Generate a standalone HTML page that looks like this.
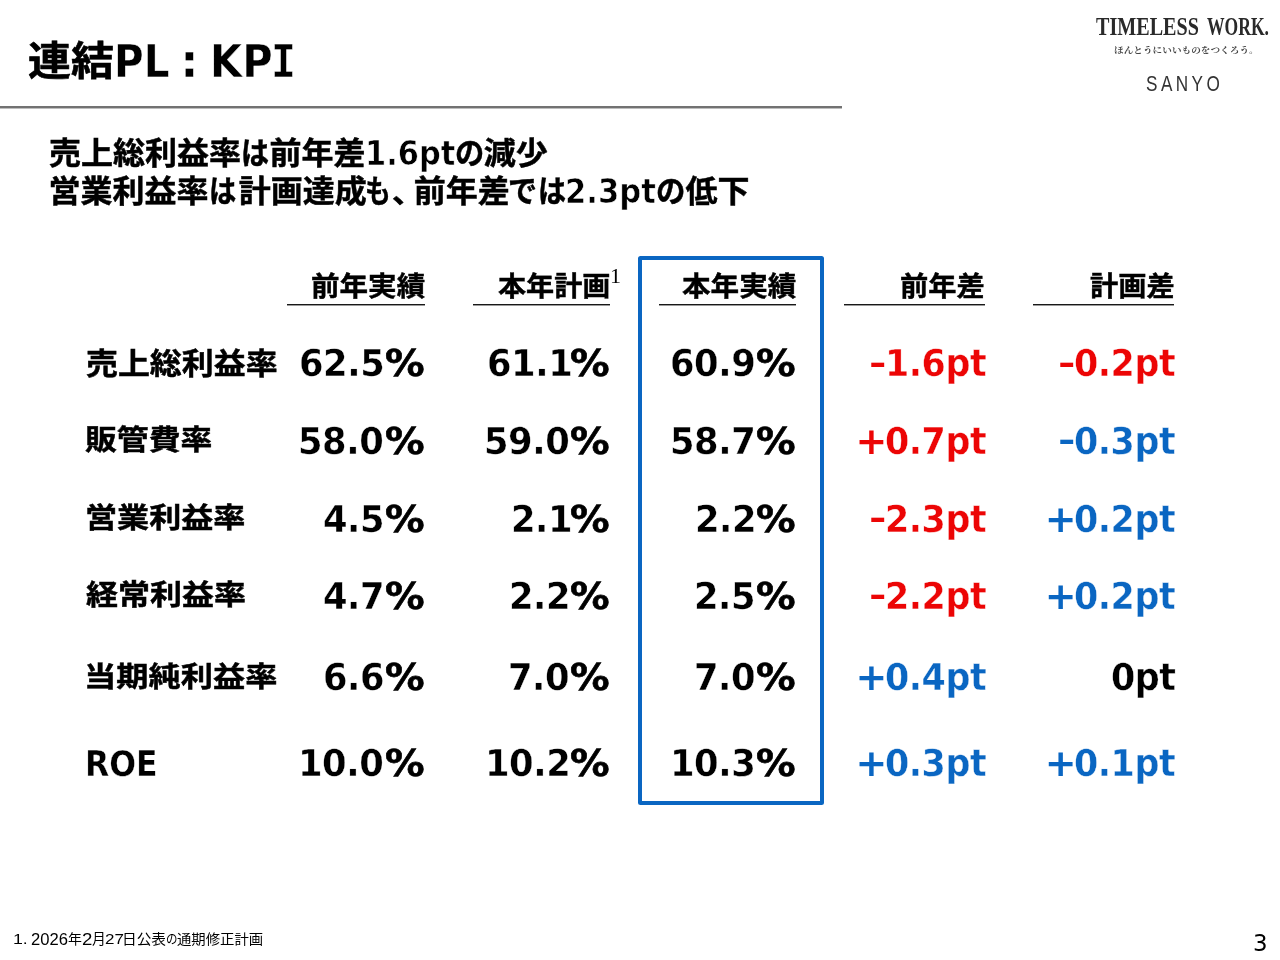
<!DOCTYPE html>
<html lang="ja"><head><meta charset="utf-8"><title>連結PL：KPI</title>
<style>
html,body{margin:0;padding:0;background:#fff}
body{width:1280px;height:960px;position:relative;overflow:hidden;color:#000}
h1,p,div{margin:0;padding:0}
.r{position:absolute;white-space:nowrap;line-height:1;transform-origin:0 0;display:block;margin:0;vertical-align:baseline}
.k{font-family:'Noto Sans CJK JP','Liberation Sans',sans-serif;font-weight:700;-webkit-text-stroke:0.016em}
.kr{font-family:'Noto Sans CJK JP','Liberation Sans',sans-serif;font-weight:400}
.d{font-family:'DejaVu Sans','Liberation Sans',sans-serif;font-weight:700;-webkit-text-stroke:0.01em #fff}
.dr{font-family:'DejaVu Sans','Liberation Sans',sans-serif;font-weight:400}
.dm{font-family:'DejaVu Sans Mono','Liberation Mono',monospace;font-weight:700;-webkit-text-stroke:0.01em #fff}
.a{font-family:'Liberation Sans',sans-serif;font-weight:400}
.sb{font-family:'Liberation Serif','Noto Serif CJK JP',serif;font-weight:700}
.s{font-family:'Liberation Serif','Noto Serif CJK JP',serif;font-weight:400}
.sj{font-family:'Noto Serif CJK JP','Liberation Serif',serif;font-weight:700}
.rule{position:absolute;left:0;top:106px;width:842px;height:3px;background:linear-gradient(#727272 0,#727272 2px,#bdbdbd 2px,#bdbdbd 3px)}
.ul{position:absolute;top:304px;height:2px;background:linear-gradient(#181818 0,#181818 1px,#9a9a9a 1px,#9a9a9a 2px)}
.box{position:absolute;left:638px;top:256px;width:178px;height:540.5px;border:4px solid #0a66c2;border-radius:2.5px}
</style></head><body>
<div class="rule"></div>
<div class="box"></div>
<div class="ul" style="left:287px;width:138.0px"></div><div class="ul" style="left:473px;width:137.0px"></div><div class="ul" style="left:659px;width:137.0px"></div><div class="ul" style="left:844px;width:141.0px"></div><div class="ul" style="left:1033px;width:141.0px"></div>
<h1 class="title">
  <span class="r k" style="left:28.11px;top:38.84px;font-size:42.67px;transform:scale(1.0059,0.9206)">連結</span><span class="r d" style="left:114.39px;top:39.87px;font-size:44px;transform:scale(0.9191,0.9911)">PL</span><span class="r d" style="left:180.35px;top:38.31px;font-size:44px;transform:scale(1.0607,1.0481)">:</span><span class="r d" style="left:209.82px;top:39.87px;font-size:44px;transform:scale(0.9434,0.9911)">KP</span><span class="r dm" style="left:271.09px;top:39.87px;font-size:44px;transform:scale(0.9421,0.9911)">I</span>
</h1>
<div class="lead">
  <p class="l1">
    <span class="r k" style="left:49.07px;top:134.74px;font-size:32px;transform:scale(1.0000,0.9550)">売上総利益率</span><span class="r k" style="left:240.71px;top:134.74px;font-size:32px;transform:scale(0.8762,0.9550)">は</span><span class="r k" style="left:269.39px;top:134.74px;font-size:32px;transform:scale(1.0000,0.9550)">前年差</span><span class="r d" style="left:365.47px;top:137.15px;font-size:32px;transform:scale(0.9520,1.0325);-webkit-text-stroke-width:0.018em">1.6pt</span><span class="r k" style="left:455.14px;top:134.74px;font-size:32px;transform:scale(0.9131,0.9550)">の</span><span class="r k" style="left:483.86px;top:134.74px;font-size:32px;transform:scale(1.0000,0.9550)">減少</span>
  </p>
  <p class="l2">
    <span class="r k" style="left:48.52px;top:173.18px;font-size:32px;transform:scale(1.0000,0.9550)">営業利益率</span><span class="r k" style="left:208.84px;top:173.18px;font-size:32px;transform:scale(0.8526,0.9550)">は</span><span class="r k" style="left:238.80px;top:173.18px;font-size:32px;transform:scale(1.0000,0.9550)">計画達成</span><span class="r k" style="left:365.00px;top:173.18px;font-size:32px;transform:scale(0.8040,0.9550)">も</span><span class="r k" style="left:391.66px;top:176.02px;font-size:32px;transform:scale(0.9737,0.8883)">、</span><span class="r k" style="left:413.75px;top:173.18px;font-size:32px;transform:scale(1.0000,0.9550)">前年差</span><span class="r k" style="left:508.05px;top:173.18px;font-size:32px;transform:scale(0.9074,0.9550)">で</span><span class="r k" style="left:537.95px;top:173.18px;font-size:32px;transform:scale(0.8767,0.9550)">は</span><span class="r d" style="left:565.11px;top:175.35px;font-size:32px;transform:scale(0.9577,1.0361);-webkit-text-stroke-width:0.018em">2.3pt</span><span class="r k" style="left:655.79px;top:173.18px;font-size:32px;transform:scale(0.9167,0.9550)">の</span><span class="r k" style="left:685.56px;top:173.18px;font-size:32px;transform:scale(1.0000,0.9550)">低下</span>
  </p>
</div>
<div class="kpi">
  <div class="thead">
    <div class="th">
      <span class="r k" style="left:310.95px;top:269.91px;font-size:28px;transform:scale(1.0198,0.9821)">前年実績</span>
    </div>
    <div class="th">
      <span class="r k" style="left:497.78px;top:271.23px;font-size:28px;transform:scale(1.0041,0.9753)">本年計画</span><sup class="r s" style="left:609.90px;top:267.47px;font-size:19.5px;transform:scale(1.1320,1.0296)">1</sup>
    </div>
    <div class="th">
      <span class="r k" style="left:682.40px;top:269.90px;font-size:28px;transform:scale(1.0205,0.9840)">本年実績</span>
    </div>
    <div class="th">
      <span class="r k" style="left:900.06px;top:271.34px;font-size:28px;transform:scale(1.0086,0.9691)">前年差</span>
    </div>
    <div class="th">
      <span class="r k" style="left:1090.08px;top:271.15px;font-size:28px;transform:scale(1.0085,0.9802)">計画差</span>
    </div>
  </div>
  <div class="tr">
    <div class="th">
      <span class="r k" style="left:86.17px;top:347.02px;font-size:32px;transform:scale(0.9979,0.9140)">売上総利益率</span>
    </div>
    <div class="td">
      <span class="r d" style="left:299.30px;top:344.25px;font-size:38px;transform:scale(0.9300,0.9892);letter-spacing:-0.5px">62.5</span><span class="r d" style="left:384.62px;top:344.25px;font-size:38px;transform:scale(1.0400,0.9892);-webkit-text-stroke:0.018em currentColor">%</span>
    </div>
    <div class="td">
      <span class="r d" style="left:486.66px;top:344.25px;font-size:38px;transform:scale(0.9300,0.9892);letter-spacing:-0.5px">61.1</span><span class="r d" style="left:570.22px;top:344.25px;font-size:38px;transform:scale(1.0400,0.9892);-webkit-text-stroke:0.018em currentColor">%</span>
    </div>
    <div class="td">
      <span class="r d" style="left:670.05px;top:344.25px;font-size:38px;transform:scale(0.9300,0.9892);letter-spacing:-0.5px">60.9</span><span class="r d" style="left:755.82px;top:344.25px;font-size:38px;transform:scale(1.0400,0.9892);-webkit-text-stroke:0.018em currentColor">%</span>
    </div>
    <div class="td">
      <span class="r d" style="left:868.90px;top:348.55px;font-size:38px;transform:scale(1.1078,0.7904);color:#ec0505;-webkit-text-stroke:0">-</span><span class="r d" style="left:885.13px;top:344.25px;font-size:38px;transform:scale(0.9180,0.9892);color:#ec0505;letter-spacing:-0.5px">1.6pt</span>
    </div>
    <div class="td">
      <span class="r d" style="left:1057.51px;top:348.55px;font-size:38px;transform:scale(1.1078,0.7904);color:#ec0505;-webkit-text-stroke:0">-</span><span class="r d" style="left:1073.73px;top:344.25px;font-size:38px;transform:scale(0.9180,0.9892);color:#ec0505;letter-spacing:-0.5px">0.2pt</span>
    </div>
  </div>
  <div class="tr">
    <div class="th">
      <span class="r k" style="left:85.36px;top:424.06px;font-size:32px;transform:scale(0.9956,0.8779)">販管費率</span>
    </div>
    <div class="td">
      <span class="r d" style="left:297.87px;top:421.95px;font-size:38px;transform:scale(0.9300,0.9892);letter-spacing:-0.5px">58.0</span><span class="r d" style="left:384.62px;top:421.95px;font-size:38px;transform:scale(1.0400,0.9892);-webkit-text-stroke:0.018em currentColor">%</span>
    </div>
    <div class="td">
      <span class="r d" style="left:484.07px;top:421.95px;font-size:38px;transform:scale(0.9300,0.9892);letter-spacing:-0.5px">59.0</span><span class="r d" style="left:570.22px;top:421.95px;font-size:38px;transform:scale(1.0400,0.9892);-webkit-text-stroke:0.018em currentColor">%</span>
    </div>
    <div class="td">
      <span class="r d" style="left:670.01px;top:421.95px;font-size:38px;transform:scale(0.9300,0.9892);letter-spacing:-0.5px">58.7</span><span class="r d" style="left:755.82px;top:421.95px;font-size:38px;transform:scale(1.0400,0.9892);-webkit-text-stroke:0.018em currentColor">%</span>
    </div>
    <div class="td">
      <span class="r d" style="left:855.61px;top:421.95px;font-size:38px;transform:scale(1.0000,0.9892);color:#ec0505;-webkit-text-stroke:0">+</span><span class="r d" style="left:885.13px;top:421.95px;font-size:38px;transform:scale(0.9180,0.9892);color:#ec0505;letter-spacing:-0.5px">0.7pt</span>
    </div>
    <div class="td">
      <span class="r d" style="left:1057.51px;top:426.48px;font-size:38px;transform:scale(1.1078,0.7904);color:#0a66c2;-webkit-text-stroke:0">-</span><span class="r d" style="left:1073.73px;top:421.95px;font-size:38px;transform:scale(0.9180,0.9892);color:#0a66c2;letter-spacing:-0.5px">0.3pt</span>
    </div>
  </div>
  <div class="tr">
    <div class="th">
      <span class="r k" style="left:85.15px;top:500.59px;font-size:32px;transform:scale(1.0026,0.8970)">営業利益率</span>
    </div>
    <div class="td">
      <span class="r d" style="left:323.20px;top:499.61px;font-size:38px;transform:scale(0.9300,0.9892);letter-spacing:-0.5px">4.5</span><span class="r d" style="left:384.64px;top:499.61px;font-size:38px;transform:scale(1.0400,0.9892);-webkit-text-stroke:0.018em currentColor">%</span>
    </div>
    <div class="td">
      <span class="r d" style="left:511.09px;top:499.61px;font-size:38px;transform:scale(0.9300,0.9892);letter-spacing:-0.5px">2.1</span><span class="r d" style="left:570.24px;top:499.61px;font-size:38px;transform:scale(1.0400,0.9892);-webkit-text-stroke:0.018em currentColor">%</span>
    </div>
    <div class="td">
      <span class="r d" style="left:695.16px;top:499.61px;font-size:38px;transform:scale(0.9300,0.9892);letter-spacing:-0.5px">2.2</span><span class="r d" style="left:755.84px;top:499.61px;font-size:38px;transform:scale(1.0400,0.9892);-webkit-text-stroke:0.018em currentColor">%</span>
    </div>
    <div class="td">
      <span class="r d" style="left:868.90px;top:503.55px;font-size:38px;transform:scale(1.1078,0.7904);color:#ec0505;-webkit-text-stroke:0">-</span><span class="r d" style="left:885.10px;top:499.61px;font-size:38px;transform:scale(0.9180,0.9892);color:#ec0505;letter-spacing:-0.5px">2.3pt</span>
    </div>
    <div class="td">
      <span class="r d" style="left:1044.64px;top:499.61px;font-size:38px;transform:scale(1.0000,0.9892);color:#0a66c2;-webkit-text-stroke:0">+</span><span class="r d" style="left:1073.70px;top:499.61px;font-size:38px;transform:scale(0.9180,0.9892);color:#0a66c2;letter-spacing:-0.5px">0.2pt</span>
    </div>
  </div>
  <div class="tr">
    <div class="th">
      <span class="r k" style="left:85.53px;top:577.66px;font-size:32px;transform:scale(0.9996,0.9037)">経常利益率</span>
    </div>
    <div class="td">
      <span class="r d" style="left:323.22px;top:577.10px;font-size:38px;transform:scale(0.9300,0.9892);letter-spacing:-0.5px">4.7</span><span class="r d" style="left:384.62px;top:577.10px;font-size:38px;transform:scale(1.0400,0.9892);-webkit-text-stroke:0.018em currentColor">%</span>
    </div>
    <div class="td">
      <span class="r d" style="left:508.78px;top:577.10px;font-size:38px;transform:scale(0.9300,0.9892);letter-spacing:-0.5px">2.2</span><span class="r d" style="left:570.22px;top:577.10px;font-size:38px;transform:scale(1.0400,0.9892);-webkit-text-stroke:0.018em currentColor">%</span>
    </div>
    <div class="td">
      <span class="r d" style="left:694.42px;top:577.10px;font-size:38px;transform:scale(0.9300,0.9892);letter-spacing:-0.5px">2.5</span><span class="r d" style="left:755.82px;top:577.10px;font-size:38px;transform:scale(1.0400,0.9892);-webkit-text-stroke:0.018em currentColor">%</span>
    </div>
    <div class="td">
      <span class="r d" style="left:868.90px;top:580.57px;font-size:38px;transform:scale(1.1078,0.7904);color:#ec0505;-webkit-text-stroke:0">-</span><span class="r d" style="left:885.13px;top:577.10px;font-size:38px;transform:scale(0.9180,0.9892);color:#ec0505;letter-spacing:-0.5px">2.2pt</span>
    </div>
    <div class="td">
      <span class="r d" style="left:1044.67px;top:577.10px;font-size:38px;transform:scale(1.0000,0.9892);color:#0a66c2;-webkit-text-stroke:0">+</span><span class="r d" style="left:1073.73px;top:577.10px;font-size:38px;transform:scale(0.9180,0.9892);color:#0a66c2;letter-spacing:-0.5px">0.2pt</span>
    </div>
  </div>
  <div class="tr">
    <div class="th">
      <span class="r k" style="left:84.10px;top:659.77px;font-size:32px;transform:scale(1.0071,0.8878)">当期純利益率</span>
    </div>
    <div class="td">
      <span class="r d" style="left:322.67px;top:658.15px;font-size:38px;transform:scale(0.9300,0.9892);letter-spacing:-0.5px">6.6</span><span class="r d" style="left:384.61px;top:658.15px;font-size:38px;transform:scale(1.0400,0.9892);-webkit-text-stroke:0.018em currentColor">%</span>
    </div>
    <div class="td">
      <span class="r d" style="left:508.35px;top:658.15px;font-size:38px;transform:scale(0.9300,0.9892);letter-spacing:-0.5px">7.0</span><span class="r d" style="left:570.21px;top:658.15px;font-size:38px;transform:scale(1.0400,0.9892);-webkit-text-stroke:0.018em currentColor">%</span>
    </div>
    <div class="td">
      <span class="r d" style="left:693.95px;top:658.15px;font-size:38px;transform:scale(0.9300,0.9892);letter-spacing:-0.5px">7.0</span><span class="r d" style="left:755.81px;top:658.15px;font-size:38px;transform:scale(1.0400,0.9892);-webkit-text-stroke:0.018em currentColor">%</span>
    </div>
    <div class="td">
      <span class="r d" style="left:855.58px;top:658.15px;font-size:38px;transform:scale(1.0000,0.9892);color:#0a66c2;-webkit-text-stroke:0">+</span><span class="r d" style="left:885.10px;top:658.15px;font-size:38px;transform:scale(0.9180,0.9892);color:#0a66c2;letter-spacing:-0.5px">0.4pt</span>
    </div>
    <div class="td">
      <span class="r d" style="left:1110.82px;top:658.15px;font-size:38px;transform:scale(0.9180,0.9892);letter-spacing:-0.5px">0pt</span>
    </div>
  </div>
  <div class="tr">
    <div class="th">
      <span class="r d" style="left:84.65px;top:745.94px;font-size:34.5px;transform:scale(0.9141,1.0496)">ROE</span>
    </div>
    <div class="td">
      <span class="r d" style="left:297.85px;top:743.95px;font-size:38px;transform:scale(0.9300,0.9892);letter-spacing:-0.5px">10.0</span><span class="r d" style="left:384.62px;top:743.95px;font-size:38px;transform:scale(1.0400,0.9892);-webkit-text-stroke:0.018em currentColor">%</span>
    </div>
    <div class="td">
      <span class="r d" style="left:484.85px;top:743.95px;font-size:38px;transform:scale(0.9300,0.9892);letter-spacing:-0.5px">10.2</span><span class="r d" style="left:570.22px;top:743.95px;font-size:38px;transform:scale(1.0400,0.9892);-webkit-text-stroke:0.018em currentColor">%</span>
    </div>
    <div class="td">
      <span class="r d" style="left:670.00px;top:743.95px;font-size:38px;transform:scale(0.9300,0.9892);letter-spacing:-0.5px">10.3</span><span class="r d" style="left:755.82px;top:743.95px;font-size:38px;transform:scale(1.0400,0.9892);-webkit-text-stroke:0.018em currentColor">%</span>
    </div>
    <div class="td">
      <span class="r d" style="left:855.59px;top:743.95px;font-size:38px;transform:scale(1.0000,0.9892);color:#0a66c2;-webkit-text-stroke:0">+</span><span class="r d" style="left:885.12px;top:743.95px;font-size:38px;transform:scale(0.9180,0.9892);color:#0a66c2;letter-spacing:-0.5px">0.3pt</span>
    </div>
    <div class="td">
      <span class="r d" style="left:1044.65px;top:743.95px;font-size:38px;transform:scale(1.0000,0.9892);color:#0a66c2;-webkit-text-stroke:0">+</span><span class="r d" style="left:1073.72px;top:743.95px;font-size:38px;transform:scale(0.9180,0.9892);color:#0a66c2;letter-spacing:-0.5px">0.1pt</span>
    </div>
  </div>
</div>
<p class="note">
  <span class="r a" style="left:13.09px;top:930.66px;font-size:14.67px;transform:scale(1.2096,1.0478)">1. </span><span class="r a" style="left:31.26px;top:932.42px;font-size:14.67px;transform:scale(1.1321,1.0668)">2026</span><span class="r kr" style="left:68.13px;top:932.01px;font-size:14.67px;transform:scale(0.9482,0.9364)">年</span><span class="r a" style="left:82.23px;top:932.35px;font-size:14.67px;transform:scale(1.2694,1.0728)">2</span><span class="r kr" style="left:92.30px;top:931.18px;font-size:14.67px;transform:scale(0.9383,0.9875)">月</span><span class="r a" style="left:104.53px;top:930.66px;font-size:14.67px;transform:scale(1.1594,1.0478)">27</span><span class="r kr" style="left:122.07px;top:932.25px;font-size:14.67px;transform:scale(1.0017,0.9532)">日公表</span><span class="r kr" style="left:166.08px;top:932.33px;font-size:14.67px;transform:scale(0.7830,0.8797)">の</span><span class="r kr" style="left:177.10px;top:931.71px;font-size:14.67px;transform:scale(0.9796,0.9510)">通期修正計画</span>
</p>
<div class="pageno">
  <span class="r dr" style="left:1252.71px;top:931.68px;font-size:22px;transform:scale(1.0424,1.0371)">3</span>
</div>
<div class="logo">
  <div class="tw">
    <span class="r sb" style="left:1095.78px;top:13.65px;font-size:24px;transform:scale(0.8378,1.0454);color:#2a2a2a">TIMELESS </span><span class="r sb" style="left:1207.11px;top:13.65px;font-size:24px;transform:scale(0.7318,1.0454);color:#2a2a2a">WORK.</span>
  </div>
  <div class="tag">
    <span class="r sj" style="left:1113.53px;top:45.77px;font-size:9.5px;transform:scale(1.0154,0.8842);color:#444">ほんとうにいいものをつくろう。</span>
  </div>
  <div class="brand">
    <span class="r a" style="left:1145.75px;top:73.18px;font-size:20px;transform:scale(0.8588,1.0714);color:#333;letter-spacing:4px">SANYO</span>
  </div>
</div>
</body></html>
